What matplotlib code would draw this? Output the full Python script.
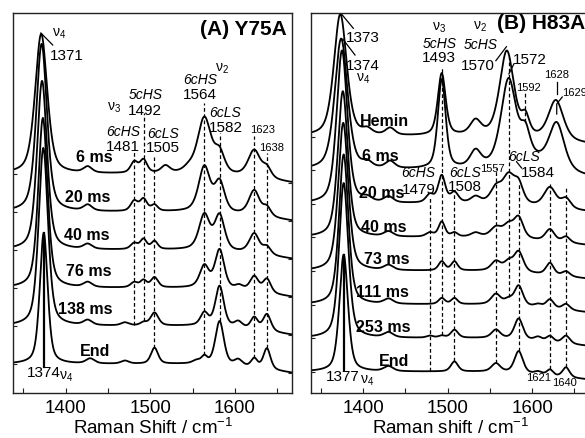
import numpy as np
import matplotlib
matplotlib.use("Agg")
import matplotlib.pyplot as plt

plt.rcParams['font.family'] = ['Liberation Sans', 'DejaVu Sans']
plt.rcParams['mathtext.fontset'] = 'custom'
plt.rcParams['mathtext.rm'] = 'Liberation Sans'
plt.rcParams['mathtext.it'] = 'Liberation Sans:italic'
plt.rcParams['mathtext.bf'] = 'Liberation Sans:bold'

# ---------------- data ----------------
WN_RANGE = (1338, 1668)
XTICKS = [1400, 1500, 1600]
XMINOR = [1350, 1450, 1550, 1650]

# bands: (centre cm-1, intensity a.u., width cm-1)
# Panel A : Y75A
A_NAMES = ["6 ms", "20 ms", "40 ms", "76 ms", "138 ms", "End"]
A_6ms = [(1371, 140, 17), (1426, 6, 12), (1481, 11, 10), (1492, 13, 10), (1518, 7, 12),
         (1545, 4, 14), (1564, 56, 19), (1582, 20, 14), (1623, 27, 17), (1638, 10, 12)]
A_20ms = [(1371.5, 168, 15), (1426, 6, 12), (1481, 10, 10), (1492, 12, 10), (1505, 6, 9),
          (1564, 45, 16), (1582, 30, 14), (1623, 25, 15), (1638, 9, 11)]
A_40ms = [(1372, 169, 14), (1426, 5, 12), (1481, 6, 10), (1492, 10, 9), (1505, 8, 9),
          (1564, 35, 15), (1582, 35, 14), (1623, 20, 14), (1638, 8, 11)]
A_76ms = [(1373, 170, 13), (1426, 5, 12), (1481, 5, 10), (1492, 7, 9), (1505, 10, 10),
          (1564, 22, 13), (1582, 39, 13), (1605, 4, 11), (1623, 15, 12), (1638, 14, 11)]
A_138ms = [(1373.5, 178, 13), (1426, 5, 12), (1470, 3, 11), (1492, 3, 9), (1505, 13, 11),
           (1564, 13, 11), (1582, 41, 12), (1604, 6, 11), (1623, 12, 10), (1638, 17, 11)]
A_End = [(1374, 131, 11), (1429, 5, 12), (1470, 3, 11), (1505, 16, 10), (1555, 3, 11),
         (1564, 7, 8), (1582, 44, 12), (1604, 6, 11), (1623, 9, 9), (1638, 21, 10)]
A_BASE_WN = [1338, 1550, 1610, 1668]
A_BASE_Y = [0, 0, -3, -9]

# Panel B : H83A
B_NAMES = ["Hemin", "6 ms", "20 ms", "40 ms", "73 ms", "111 ms", "253 ms", "End"]
B_Hemin = [(1373, 122, 18), (1405, 5, 13), (1432, 7, 13), (1493, 62, 11), (1533, 14, 15),
           (1570, 85, 20), (1592, 18, 11), (1628, 40, 21)]
B_6ms = [(1374, 131, 18), (1405, 5, 13), (1432, 7, 13), (1493, 89, 11), (1533, 16, 15),
         (1572, 84, 21), (1592, 25, 13), (1600, 12, 60), (1629, 45, 21)]
B_20ms = [(1375, 153, 15), (1405, 4, 13), (1430, 6, 13), (1479, 8, 11), (1493, 27, 10),
          (1508, 10, 11), (1533, 6, 13), (1557, 14, 15), (1572, 27, 17), (1584, 18, 13),
          (1621, 20, 17), (1640, 10, 13)]
B_40ms = [(1376, 146, 14), (1430, 5, 13), (1479, 4, 11), (1493, 15, 9), (1508, 4, 9),
          (1533, 4, 13), (1557, 9, 15), (1572, 12, 15), (1584, 20, 13), (1621, 12, 13),
          (1640, 6, 11)]
B_73ms = [(1376.5, 148, 14), (1430, 5, 13), (1493, 9, 9), (1508, 9, 9), (1557, 9, 13),
          (1572, 9, 13), (1584, 20, 13), (1621, 12, 11), (1640, 5, 11)]
B_111ms = [(1377, 150, 13), (1430, 5, 13), (1493, 6, 9), (1508, 6, 9), (1557, 10, 13),
           (1572, 5, 11), (1584, 20, 12), (1607, 3, 11), (1621, 9, 11), (1640, 6, 11)]
B_253ms = [(1377, 155, 13), (1430, 5, 13), (1479, 2, 9), (1493, 2, 9), (1508, 8, 10),
           (1557, 8, 12), (1584, 21, 12), (1607, 4, 11), (1621, 6, 10), (1640, 8, 11)]
B_End = [(1377, 117, 12), (1430, 5, 13), (1508, 10, 10), (1557, 8, 12), (1584, 22, 12),
         (1607, 3, 11), (1621, 6, 9), (1640, 10, 10)]
B_BASE_WN = [1338, 1560, 1668]
B_BASE_Y = [0, 0, -8]

# marker (dashed) lines
A_MARK_WN = [1481, 1492, 1505, 1564, 1582, 1623, 1638]
A_MARK_TOP = [212, 251, 207, 261, 231, 228, 211]
A_MARK_TO = [4, 4, 5, 5, 5, 5, 5]
B_MARK_WN = [1479, 1493, 1508, 1557, 1572, 1584, 1592, 1621, 1640]
B_MARK_TOP = [175, 305, 180, 204, 315, 189, 280, 189, 185]
B_MARK_TO = [7, 6, 7, 7, 5, 7, 1, 7, 7]

A_STEP = 38.0
B_STEP = 33.6

# ---------------- helpers ----------------
x = np.linspace(WN_RANGE[0], WN_RANGE[1], 1500)


def band(xx, c, a, w, eta=0.5):
    hw = w / 2.0
    u = ((xx - c) / hw) ** 2
    return a * (eta / (1 + u) + (1 - eta) * np.exp(-np.log(2) * u))


def spectrum(xx, bands, bwn, by):
    y = np.interp(xx, bwn, by).astype(float)
    for c, a, w in bands:
        y = y + band(xx, c, a, w)
    return y


W, H = 585, 438
fig = plt.figure(figsize=(W / 100, H / 100), dpi=100)
axA = fig.add_axes([13.3 / W, 1 - 392.7 / H, 279 / W, (392.7 - 13.3) / H])
axB = fig.add_axes([310.7 / W, 1 - 392.7 / H, 279 / W, (392.7 - 12.7) / H])

LW = 1.3
SPINE_C = '#222222'


def setup(ax, ylim, offsets, right_end, xlabel):
    ax.set_xlim(*WN_RANGE)
    ax.set_ylim(*ylim)
    ax.set_xticks(XTICKS)
    ax.set_xticks(XMINOR, minor=True)
    ax.set_yticks(offsets)
    ax.set_yticklabels([])
    ax.tick_params(axis='x', which='both', direction='in', length=3.5, width=0.8,
                   labelsize=13.5, pad=5, colors=SPINE_C, labelcolor='black')
    ax.tick_params(axis='y', direction='in', length=3, width=0.8, colors=SPINE_C)
    for s in ax.spines.values():
        s.set_color(SPINE_C)
        s.set_linewidth(1.0)
    tw = ax.twinx()
    tw.set_ylim(*ylim)
    tw.set_yticks([o + right_end for o in offsets])
    tw.set_yticklabels([])
    tw.tick_params(axis='y', direction='in', length=3, width=0.8, colors=SPINE_C)
    for s in tw.spines.values():
        s.set_visible(False)
    ax.set_xlabel(xlabel, fontsize=13.5, labelpad=1)


# ---------------- panel A ----------------
A_SPECS = [A_6ms, A_20ms, A_40ms, A_76ms, A_138ms, A_End]
nA = len(A_SPECS)
A_OFF = [A_STEP * (nA - 1 - i) for i in range(nA)]
A_Y = [spectrum(x, b, A_BASE_WN, A_BASE_Y) + o for b, o in zip(A_SPECS, A_OFF)]
setup(axA, (-28.7, 350.7), A_OFF, A_BASE_Y[-1], r'Raman Shift / cm$^{\mathregular{-1}}$')

for wn, top, k in zip(A_MARK_WN, A_MARK_TOP, A_MARK_TO):
    bot = A_OFF[k] + spectrum(np.array([wn]), A_SPECS[k], A_BASE_WN, A_BASE_Y)[0]
    axA.plot([wn, wn], [bot, top], ls=(0, (3, 2)), color='black', lw=0.9, zorder=1)
for yy in A_Y:
    axA.plot(x, yy, color='black', lw=LW, zorder=2)

A_NAME_X = [1433.5, 1426, 1425, 1427.6, 1423, 1434.8]
A_NAME_Y = [207, 167, 129, 92, 54, 12]
for n, xx_, yy_ in zip(A_NAMES, A_NAME_X, A_NAME_Y):
    axA.text(xx_, yy_, n, fontsize=11.5, fontweight='bold', ha='center', va='center', zorder=3)

axA.text(1661.5, 335, '(A) Y75A', fontsize=15, fontweight='bold', ha='right', va='center')
big, small, ital = 11, 8, 10
axA.text(1392, 330.5, r'ν$_4$', fontsize=10, ha='center', va='center')
axA.text(1401.5, 308, '1371', fontsize=big, ha='center', va='center')
axA.plot([1370.6, 1384.6], [331, 319], color='black', lw=0.9)
axA.text(1457, 256.5, r'ν$_3$', fontsize=10, ha='center', va='center')
axA.text(1495, 269, '5cHS', fontsize=ital, style='italic', ha='center', va='center')
axA.text(1494, 253, '1492', fontsize=big, ha='center', va='center')
axA.text(1467.8, 232, '6cHS', fontsize=ital, style='italic', ha='center', va='center')
axA.text(1467.8, 217, '1481', fontsize=big, ha='center', va='center')
axA.text(1515, 230, '6cLS', fontsize=ital, style='italic', ha='center', va='center')
axA.text(1515, 216, '1505', fontsize=big, ha='center', va='center')
axA.text(1559, 284, '6cHS', fontsize=ital, style='italic', ha='center', va='center')
axA.text(1585, 295, r'ν$_2$', fontsize=10, ha='center', va='center')
axA.text(1559, 269, '1564', fontsize=big, ha='center', va='center')
axA.text(1588.5, 251, '6cLS', fontsize=ital, style='italic', ha='center', va='center')
axA.text(1589.7, 236, '1582', fontsize=big, ha='center', va='center')
axA.text(1633, 234, '1623', fontsize=small, ha='center', va='center')
axA.text(1644, 216, '1638', fontsize=small, ha='center', va='center')
endA_top = A_OFF[-1] + spectrum(np.array([1374.0]), A_End, A_BASE_WN, A_BASE_Y)[0]
axA.plot([1374, 1374], [-3, endA_top], color='black', lw=1.6, zorder=3)
axA.text(1373.7, -9, '1374', fontsize=big, ha='center', va='center')
axA.text(1400.4, -13, r'ν$_4$', fontsize=10, ha='center', va='center')

# ---------------- panel B ----------------
B_SPECS = [B_Hemin, B_6ms, B_20ms, B_40ms, B_73ms, B_111ms, B_253ms, B_End]
nB = len(B_SPECS)
B_OFF = [B_STEP * (nB - 1 - i) for i in range(nB)]
B_Y = [spectrum(x, b, B_BASE_WN, B_BASE_Y) + o for b, o in zip(B_SPECS, B_OFF)]
setup(axB, (-21, 359), B_OFF, B_BASE_Y[-1], r'Raman shift / cm$^{\mathregular{-1}}$')

for wn, top, k in zip(B_MARK_WN, B_MARK_TOP, B_MARK_TO):
    bot = B_OFF[k] + spectrum(np.array([wn]), B_SPECS[k], B_BASE_WN, B_BASE_Y)[0]
    axB.plot([wn, wn], [bot, top], ls=(0, (3, 2)), color='black', lw=0.9, zorder=1)
for yy in B_Y:
    axB.plot(x, yy, color='black', lw=LW, zorder=2)

B_NAME_X = [1425.8, 1419.9, 1422.0, 1424.6, 1427.6, 1423.4, 1423.4, 1436.4]
B_NAME_Y = [250, 215.7, 178.7, 144.7, 112.7, 79.2, 44.2, 10]
for n, xx_, yy_ in zip(B_NAMES, B_NAME_X, B_NAME_Y):
    axB.text(xx_, yy_, n, fontsize=11.5, fontweight='bold', ha='center', va='center', zorder=3)

axB.text(1663, 348.7, '(B) H83A', fontsize=15, fontweight='bold', ha='right', va='center')
axB.text(1399.8, 333.7, '1373', fontsize=big, ha='center', va='center')
axB.plot([1374.6, 1388.4], [357.5, 343.4], color='black', lw=0.9)
axB.text(1399.8, 305.7, '1374', fontsize=big, ha='center', va='center')
axB.plot([1376.0, 1390.4], [332.6, 316.7], color='black', lw=0.9)
axB.text(1399.8, 292.7, r'ν$_4$', fontsize=10, ha='center', va='center')
axB.text(1490, 343.7, r'ν$_3$', fontsize=10, ha='center', va='center')
axB.text(1490, 327.7, '5cHS', fontsize=ital, style='italic', ha='center', va='center')
axB.text(1490, 313.7, '1493', fontsize=big, ha='center', va='center')
axB.text(1538, 344.7, r'ν$_2$', fontsize=10, ha='center', va='center')
axB.text(1539, 326.7, '5cHS', fontsize=ital, style='italic', ha='center', va='center')
axB.text(1535.6, 305.7, '1570', fontsize=big, ha='center', va='center')
axB.plot([1557, 1569.5], [311, 325], color='black', lw=0.9)
axB.text(1597.2, 311.7, '1572', fontsize=big, ha='center', va='center')
axB.plot([1572.4, 1578.3], [297.7, 307.7], color='black', lw=0.9)
axB.text(1596, 283.7, '1592', fontsize=small, ha='center', va='center')
axB.text(1629, 296.7, '1628', fontsize=small, ha='center', va='center')
axB.plot([1629, 1629], [290, 278], color='black', lw=0.9)
axB.text(1635.5, 278.7, '1629', fontsize=small, ha='left', va='center')
axB.plot([1635.5, 1629, 1629], [274.7, 267.7, 257.7], color='black', lw=0.9)
axB.text(1465.5, 198.7, '6cHS', fontsize=ital, style='italic', ha='center', va='center')
axB.text(1465.5, 181.7, '1479', fontsize=big, ha='center', va='center')
axB.text(1520.4, 198.7, '6cLS', fontsize=ital, style='italic', ha='center', va='center')
axB.text(1520.4, 184.7, '1508', fontsize=big, ha='center', va='center')
axB.text(1552.5, 202.7, '1557', fontsize=small, ha='center', va='center')
axB.text(1590.4, 214.7, '6cLS', fontsize=ital, style='italic', ha='center', va='center')
axB.text(1607, 198.7, '1584', fontsize=big, ha='center', va='center')
axB.plot([1587.4, 1581.5], [203.7, 210], color='black', lw=0.9)
axB.text(1607, -6.3, '1621', fontsize=small, ha='center', va='center')
axB.text(1637.8, -11.3, '1640', fontsize=small, ha='center', va='center')
endB_top = B_OFF[-1] + spectrum(np.array([1377.0]), B_End, B_BASE_WN, B_BASE_Y)[0]
axB.plot([1377, 1377], [1.5, endB_top], color='black', lw=1.6, zorder=3)
axB.text(1376.2, -5.3, '1377', fontsize=big, ha='center', va='center')
axB.text(1404.6, -9.3, r'ν$_4$', fontsize=10, ha='center', va='center')

fig.savefig('out.png', dpi=100)
